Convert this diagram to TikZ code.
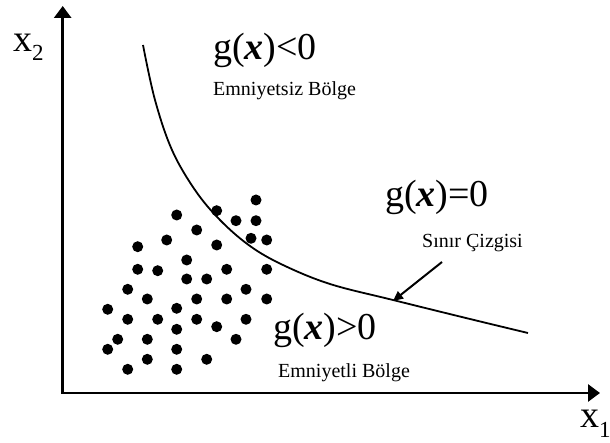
\documentclass[tikz,border=0pt]{standalone}
\usepackage{fontspec}
\setmainfont{Liberation Serif}
\usetikzlibrary{arrows.meta}
\begin{document}
\begin{tikzpicture}[x=1pt,y=-1pt,
  axis/.style={line width=2.8pt,{Triangle[width=17pt,length=12pt]}-{Triangle[width=17pt,length=12pt]}},
  boundary/.style={line width=1.8pt},
  pointer/.style={line width=2pt,-{Triangle[width=9pt,length=10pt]}},
  dot/.style={circle,fill=black,inner sep=0pt,minimum size=11pt},
  big/.style={font=\fontsize{38}{38}\selectfont,inner sep=0pt,anchor=base west},
  small/.style={font=\fontsize{20}{20}\selectfont,inner sep=0pt,anchor=base west}]
\useasboundingbox (0,0) rectangle (610,443);
\coordinate (ytip) at (62.7,6);
\coordinate (O) at (62.7,393);
\coordinate (xtip) at (600,393);
\draw[axis] (ytip) -- (O) -- (xtip);
\node[big] (x2) at (13,52) {x\raisebox{-9pt}{\fontsize{23}{23}\selectfont 2}};
\node[big] (x1) at (580,427) {x\raisebox{-10pt}{\fontsize{23}{23}\selectfont 1}};
\draw[boundary] plot[smooth,tension=0.6] coordinates {(143,45) (155,100) (172,150) (195,190) (220,220) (250,246) (283,265) (330,284) (393,300) (470,319) (528,333)};
\node[big] (neg) at (213,60) {g(\textbf{\textit{x}})<0};
\node[small] (unsafe) at (213,96) {Emniyetsiz Bölge};
\node[big] (zero) at (385,207) {g(\textbf{\textit{x}})=0};
\node[small] (lim) at (422,248) {Sınır Çizgisi};
\node[big] (pos) at (273,339) {g(\textbf{\textit{x}})>0};
\node[small] (safe) at (278,377) {Emniyetli Bölge};
\coordinate (ptail) at (442,262);
\coordinate (ptip) at (393,301);
\draw[pointer] (ptail) -- (ptip);
\foreach \p [count=\i] in {(256,200),(176.7,215),(216.7,210.7),(236,220.7),(256,220.7),(196.7,230),(166.7,240),(137.7,246.7),(216.7,245),(251,238.3),(266.7,240),(186.7,260),(137.7,269.3),(157.7,270.7),(226.7,269.3),(266.7,269.3),(186.7,279),(206.7,279),(127.7,289.3),(147.3,299),(196.7,299),(226.7,299),(246,289.3),(266.7,299),(107.7,309.3),(176.7,308.3),(127.7,319.3),(157.7,319.3),(196.7,319.3),(246,319.3),(216.7,326.7),(176.7,329.3),(117.7,339.3),(147.3,339.3),(236,339.3),(107.7,349.3),(176.7,349.3),(147.3,359.3),(206.7,359.3),(127.7,369.3),(176.7,369.3)}
  \node[dot] (d\i) at \p {};
\end{tikzpicture}
\end{document}
